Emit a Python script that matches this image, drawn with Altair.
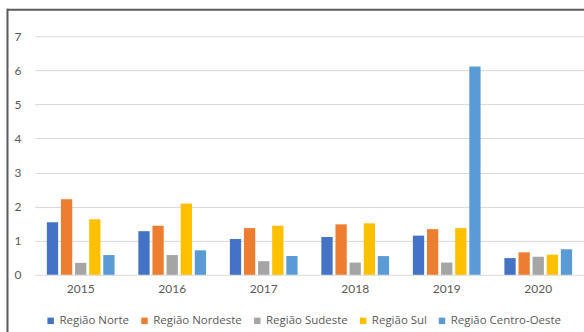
import altair as alt
import pandas as pd

# Índices anuais por região
anos = ["2015", "2016", "2017", "2018", "2019", "2020"]
regioes = ["Região Norte", "Região Nordeste", "Região Sudeste", "Região Sul", "Região Centro-Oeste"]
norte = [1.54, 1.28, 1.05, 1.11, 1.15, 0.49]
nordeste = [2.22, 1.44, 1.37, 1.48, 1.34, 0.66]
sudeste = [0.35, 0.58, 0.40, 0.36, 0.36, 0.53]
sul = [1.63, 2.09, 1.44, 1.51, 1.37, 0.59]
centro_oeste = [0.58, 0.72, 0.55, 0.55, 6.11, 0.75]
cores = ["#4472C4", "#ED7D31", "#A5A5A5", "#FFC000", "#5B9BD5"]

series = [norte, nordeste, sudeste, sul, centro_oeste]
rows = []
for reg, vals in zip(regioes, series):
    for ano, v in zip(anos, vals):
        rows.append({"ano": ano, "regiao": reg, "valor": v})
df = pd.DataFrame(rows)

FONT = "Lato"
LEG_FONT = "Open Sans"
TXT = "#595959"

bars = alt.Chart(df).mark_bar().encode(
    x=alt.X("ano:N", sort=anos, title=None,
            scale=alt.Scale(paddingInner=0.26, paddingOuter=0.13),
            axis=alt.Axis(labelAngle=0, ticks=False, tickSize=0, domain=False,
                          labelPadding=9, labelFontSize=12, labelColor=TXT,
                          labelFont=FONT, grid=False)),
    xOffset=alt.XOffset("regiao:N", sort=regioes,
                        scale=alt.Scale(paddingInner=0.2)),
    y=alt.Y("valor:Q", title=None,
            scale=alt.Scale(domain=[0, 7], nice=False),
            axis=alt.Axis(values=list(range(8)), ticks=False, tickSize=0,
                          domain=False, labelPadding=14, labelFontSize=12,
                          labelColor=TXT, labelFont=FONT, gridColor="#D9D9D9",
                          gridWidth=1)),
    color=alt.Color("regiao:N", sort=regioes,
                    scale=alt.Scale(domain=regioes, range=cores),
                    legend=alt.Legend(title=None, orient="none", legendX=10,
                                      legendY=279, direction="horizontal",
                                      columns=5, symbolType="square",
                                      symbolSize=42, symbolStrokeWidth=0,
                                      labelFont=LEG_FONT, labelFontSize=11.5,
                                      labelColor=TXT, labelOffset=3,
                                      columnPadding=9)),
)

# Moldura do gráfico (bordas superior e esquerda)
borda_topo = alt.Chart().mark_rule(color="#5A5A5A", strokeWidth=2).encode(
    x=alt.value(-28), x2=alt.value(600), y=alt.value(-26.5))
borda_esq = alt.Chart().mark_rule(color="#5A5A5A", strokeWidth=2).encode(
    x=alt.value(-27.5), y=alt.value(-27.5), y2=alt.value(400))

chart = alt.layer(bars, borda_topo, borda_esq).properties(
    width=550, height=239,
    autosize=alt.AutoSizeParams(type="none"),
    padding={"left": 35, "top": 36, "right": 0, "bottom": 57},
    background="white",
).configure_view(stroke=None)

chart.save("out.html", embed_options={"renderer": "svg", "actions": False})
